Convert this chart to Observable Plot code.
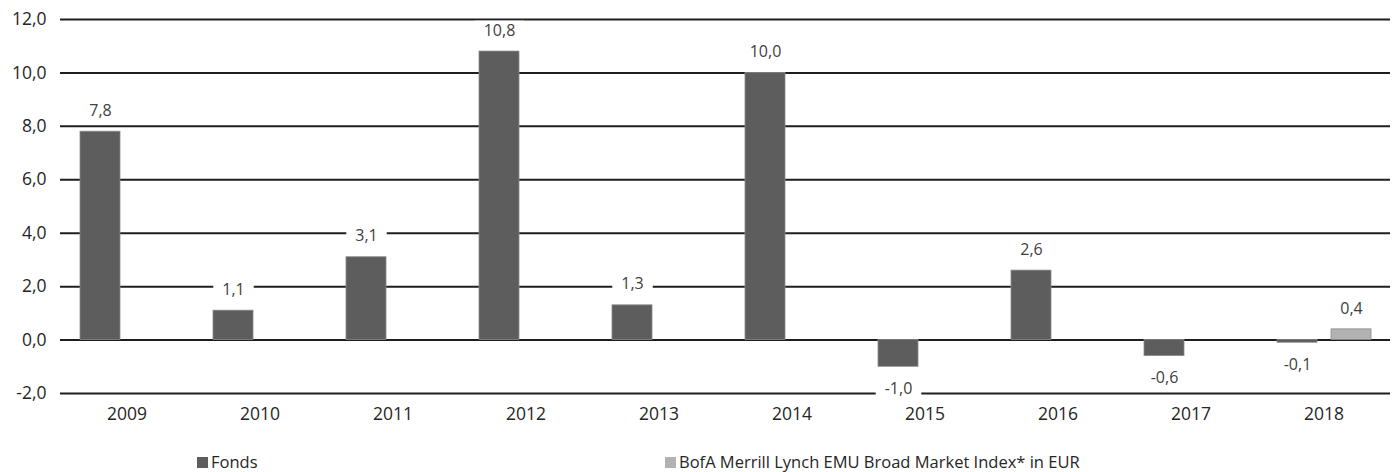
<!DOCTYPE html>
<html>
<head>
<meta charset="utf-8">
<script src="https://cdn.jsdelivr.net/npm/d3@7"></script>
<script src="https://cdn.jsdelivr.net/npm/@observablehq/plot@0.6"></script>
<style>
  body { margin: 0; background: #fff; font-family: "Open Sans", sans-serif; }
  #wrap { position: relative; width: 1395px; height: 472px; overflow: hidden; }
  .legend { position: absolute; top: 452px; height: 20px; line-height: 20px; font-size: 16.5px; color: #262626; display: flex; align-items: center; white-space: nowrap; }
  .legend span.sw { display: inline-block; width: 11px; height: 11px; margin-right: 3px; }
</style>
</head>
<body>
<div id="wrap"></div>
<script>
const years = ["2009","2010","2011","2012","2013","2014","2015","2016","2017","2018"];
const fonds = [7.8, 1.1, 3.1, 10.8, 1.3, 10.0, -1.0, 2.6, -0.6, -0.1];
const index = [null, null, null, null, null, null, null, null, null, 0.4];
const seriesNames = ["Fonds", "BofA Merrill Lynch EMU Broad Market Index* in EUR"];
const seriesColors = ["#5d5d5d", "#b2b2b2"];
const yTicks = [-2, 0, 2, 4, 6, 8, 10, 12];

const locale = d3.formatLocale({decimal: ",", thousands: ".", grouping: [3], currency: ["", "€"], minus: "-"});
const fmt = locale.format(".1f");

const data = [];
years.forEach((y, i) => {
  if (fonds[i] != null) data.push({year: y, series: seriesNames[0], value: fonds[i]});
  if (index[i] != null) data.push({year: y, series: seriesNames[1], value: index[i]});
});
const pos = data.filter(d => d.value >= 0);
const neg = data.filter(d => d.value < 0);

const chart = Plot.plot({
  width: 1395,
  height: 440,
  marginLeft: 59,
  marginRight: 5,
  marginTop: 19,
  marginBottom: 47,
  style: {fontFamily: "'Open Sans', sans-serif", fontSize: "17.5px", color: "#262626", background: "#fff"},
  fx: {domain: years, padding: 0, tickSize: 0, tickPadding: 14, label: null},
  x: {domain: seriesNames, paddingInner: 0.26, paddingOuter: 0.35, axis: null},
  y: {domain: [-2, 12], ticks: yTicks, tickFormat: fmt, tickSize: 0, tickPadding: 14, label: null},
  color: {domain: seriesNames, range: seriesColors},
  marks: [
    Plot.ruleY(yTicks, {stroke: "#1e1e1e", strokeWidth: 2}),
    Plot.barY(data, {fx: "year", x: "series", y: "value", fill: "series", stroke: "#8a8a8a", strokeWidth: 0.8}),
    Plot.text(pos, {fx: "year", x: "series", y: "value", text: d => fmt(d.value), dy: -21, fontSize: 16, fill: "#404040", className: "vlabel"}),
    Plot.text(neg, {fx: "year", x: "series", y: "value", text: d => fmt(d.value), dy: 22, fontSize: 16, fill: "#404040", className: "vlabel"})
  ]
});
const wrap = document.getElementById("wrap");
wrap.appendChild(chart);

// white boxes behind value labels (interrupting gridlines as in the reference)
chart.querySelectorAll("g.vlabel text").forEach(t => {
  const b = t.getBBox();
  const r = document.createElementNS("http://www.w3.org/2000/svg", "rect");
  r.setAttribute("x", b.x - 9);
  r.setAttribute("y", b.y + 2);
  r.setAttribute("width", b.width + 18);
  r.setAttribute("height", b.height - 4);
  r.setAttribute("fill", "white");
  const tr = t.getAttribute("transform");
  if (tr) r.setAttribute("transform", tr);
  t.parentNode.insertBefore(r, t);
});

const legendX = [197, 665];
seriesNames.forEach((name, i) => {
  const item = document.createElement("div");
  item.className = "legend";
  item.style.left = legendX[i] + "px";
  const sw = document.createElement("span");
  sw.className = "sw";
  sw.style.background = seriesColors[i];
  const label = document.createElement("span");
  label.textContent = name;
  item.appendChild(sw);
  item.appendChild(label);
  wrap.appendChild(item);
});
</script>
</body>
</html>
